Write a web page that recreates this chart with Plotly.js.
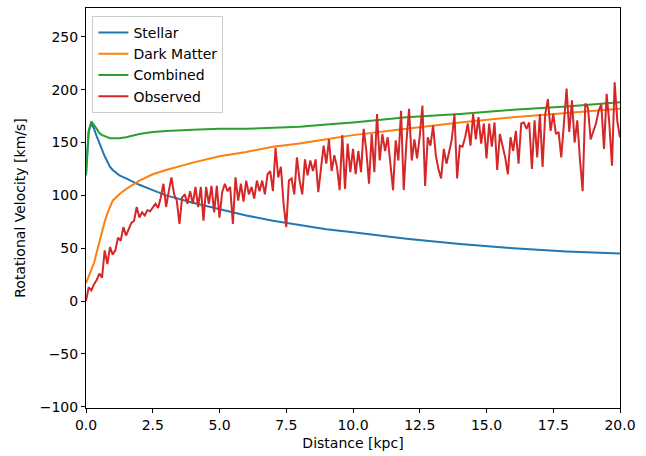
<!DOCTYPE html>
<html>
<head>
<meta charset="utf-8">
<script src="https://cdn.plot.ly/plotly-3.0.1.min.js"></script>
<style>
html,body{margin:0;padding:0;background:#fff;}
#chart{width:646px;height:456px;}
</style>
</head>
<body>
<div id="chart"></div>
<script>
// Model curves (distance in kpc, velocity in km/s)
const modelDistance = [0, 0.1, 0.2, 0.3, 0.4, 0.5, 0.6, 0.7, 0.8, 0.9, 1.0, 1.25, 1.5, 2.0, 2.5, 3, 4, 5, 6, 7, 8, 9, 10, 12, 14, 16, 18, 20];
const stellar  = [119, 160, 168, 163, 156, 149, 142, 137, 132, 127, 124, 119, 116, 110, 105, 100, 93, 87, 81, 76, 72, 68, 65, 59, 54, 50, 47, 45];
const darkMatter = [17, 24, 30, 36, 46, 56, 66, 75, 83, 90, 95, 101, 106, 114, 120, 124, 131, 137, 141, 146, 149, 153, 157, 163, 169, 174, 178, 182];
const combined = [120, 161, 170, 167, 163, 159, 157, 156, 155, 154, 154, 154, 155, 158, 160, 161, 162, 163, 163, 164, 165, 167, 169, 174, 177, 181, 184, 188];

// Observed velocities sampled every 0.1 kpc from 0 to 20 kpc
const observedStep = 0.1;
const observed = [
  0,13,10,16,20,26,22,48,35,51,
  44,48,60,57,70,62,68,74,76,89,
  79,84,81,86,85,89,92,88,98,111,
  89,104,117,101,95,73,98,101,92,104,
  92,108,89,108,76,108,92,109,84,109,
  79,103,111,104,108,73,117,95,111,94,
  114,101,108,97,114,104,114,101,120,123,
  104,145,117,127,92,70,114,116,101,136,
  114,101,134,119,133,123,134,103,125,147,
  130,153,123,138,127,105,157,106,149,122,
  144,120,142,122,163,142,111,158,122,177,
  133,158,142,155,130,105,152,133,180,105,
  150,182,133,153,135,156,185,109,155,147,
  166,138,125,116,144,130,141,153,177,116,
  147,146,155,168,147,177,153,174,149,168,
  135,168,146,169,124,158,147,136,120,155,
  142,161,130,168,169,163,169,125,171,136,
  177,127,177,191,161,177,158,160,136,172,
  201,160,190,150,171,134,104,187,183,153,
  160,168,180,186,144,196,168,128,207,170,
  155
];

const xTicks = [0, 2.5, 5, 7.5, 10, 12.5, 15, 17.5, 20];
const yTicks = [-100, -50, 0, 50, 100, 150, 200, 250];

const observedDistance = observed.map((_, i) => Math.round(i * observedStep * 10) / 10);

const font = {family: 'DejaVu Sans, sans-serif', size: 14, color: '#000'};

const traces = [
  {x: modelDistance, y: stellar, name: 'Stellar', type: 'scatter', mode: 'lines', line: {color: '#1f77b4', width: 2}},
  {x: modelDistance, y: darkMatter, name: 'Dark Matter', type: 'scatter', mode: 'lines', line: {color: '#ff7f0e', width: 2}},
  {x: modelDistance, y: combined, name: 'Combined', type: 'scatter', mode: 'lines', line: {color: '#2ca02c', width: 2}},
  {x: observedDistance, y: observed, name: 'Observed', type: 'scatter', mode: 'lines', line: {color: '#d62728', width: 2}}
];

const axisCommon = {
  showline: true, mirror: true, linecolor: '#000', linewidth: 1,
  showgrid: false, zeroline: false,
  ticks: 'outside', ticklen: 4, tickwidth: 1, tickcolor: '#000',
  tickfont: font
};

const layout = {
  width: 646, height: 456,
  margin: {l: 86, r: 26, t: 8, b: 48},
  paper_bgcolor: '#fff', plot_bgcolor: '#fff',
  font: font,
  showlegend: true,
  legend: {
    x: 0.012, y: 0.98, xanchor: 'left', yanchor: 'top',
    bgcolor: 'rgba(255,255,255,0.8)', bordercolor: '#cccccc', borderwidth: 1,
    font: font, tracegroupgap: 0
  },
  xaxis: Object.assign({}, axisCommon, {
    range: [0, 20], tickvals: xTicks, ticktext: xTicks.map(v => v.toFixed(1)),
    title: {text: 'Distance [kpc]', font: font, standoff: 6}
  }),
  yaxis: Object.assign({}, axisCommon, {
    range: [-101.2, 277.3], tickvals: yTicks,
    ticktext: yTicks.map(v => v < 0 ? '\u2212' + Math.abs(v) : String(v)),
    title: {text: 'Rotational Velocity [km/s]', font: font, standoff: 10}
  })
};

Plotly.newPlot('chart', traces, layout, {displayModeBar: false, staticPlot: true});
</script>
</body>
</html>
